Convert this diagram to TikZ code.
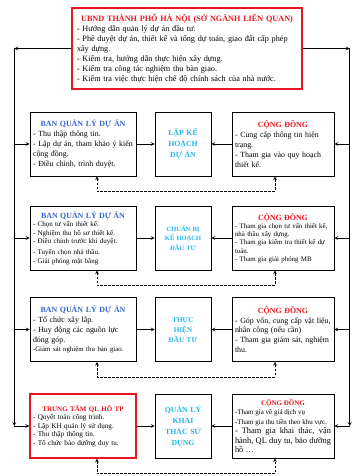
\documentclass[tikz,border=0pt]{standalone}
\usepackage{fontspec}
\setmainfont{Liberation Serif}
\usepackage{xcolor}
\usetikzlibrary{positioning,calc,arrows}
\definecolor{ubndred}{RGB}{232,22,30}
\definecolor{bqblue}{RGB}{52,102,204}
\definecolor{midcyan}{RGB}{34,182,240}
\newcommand{\bqtitle}[1]{{\centering\bfseries\color{bqblue}#1\par}}
\newcommand{\cdtitle}[1]{{\centering\bfseries\color{ubndred}#1\par}}
\tikzset{%
  every box/.style={
    rectangle,
    draw,
    line width=0.7pt,
    inner sep=3pt,
    font=\fontsize{7.9}{9.9}\selectfont
  },
  bq box/.style={
    text width=100pt,
    minimum height=64pt,
    align=left
  },
  cd box/.style={
    text width=96pt,
    minimum height=64pt,
    align=left
  },
  mid box/.style={
    text width=50pt,
    minimum height=64pt,
    align=center,
    text=midcyan,
    font=\fontsize{7.8}{11}\selectfont\bfseries
  },
  red box/.style={
    draw=ubndred,
    line width=1.3pt
  },
}

\begin{document}
\begin{tikzpicture}[x=1pt, y=-1pt, >=stealth, line width=0.7pt]
  \useasboundingbox (0,0) rectangle (353,476);

  % top box
  \node [every box/.try, red box, text width=220pt, minimum height=81pt, align=left, inner sep=5pt, font=\fontsize{8.2}{10.1}\selectfont] (ubnd) at (187,48.5)
    {\cdtitle{UBND THÀNH PHỐ HÀ NỘI (SỞ NGÀNH LIÊN QUAN)}%
     - Hướng dẫn quản lý dự án đầu tư.\par
     - Phê duyệt dự án, thiết kế và tổng dự toán, giao đất cấp phép xây dựng.\par
     - Kiểm tra, hướng dẫn thực hiện xây dựng.\par
     - Kiểm tra công tác nghiệm thu bàn giao.\par
     - Kiểm tra việc thực hiện chế độ chính sách của nhà nước.};

  % row 1
  \node [every box/.try, bq box] (left-1) at (83,144)
    {\bqtitle{BAN QUẢN LÝ DỰ ÁN}%
     - Thu thập thông tin.\par
     - Lập dự án, tham khảo ý kiến cộng đồng.\par
     - Điều chỉnh, trình duyệt.};
  \node [every box/.try, mid box] (mid-1) at (183,144) {LẬP KẾ\\HOẠCH\\DỰ ÁN};
  \node [every box/.try, cd box] (right-1) at (283,144)
    {\cdtitle{CỘNG ĐỒNG}%
     - Cung cấp thông tin hiện trạng.\par
     - Tham gia vào quy hoạch thiết kế.};

  % row 2
  \node [every box/.try, bq box, font=\fontsize{7}{8.6}\selectfont] (left-2) at (83,238)
    {{\fontsize{7.9}{9.9}\selectfont\bqtitle{BAN QUẢN LÝ DỰ ÁN}}%
     - Chọn tư vấn thiết kế.\par
     - Nghiệm thu hồ sơ thiết kế.\par
     - Điều chỉnh trước khi duyệt.\par\vspace{2pt}
     - Tuyển chọn nhà thầu.\par
     - Giải phóng mặt bằng};
  \node [every box/.try, mid box, font=\fontsize{6.5}{9.5}\selectfont\bfseries] (mid-2) at (183,238) {CHUẨN BỊ\\KẾ HOẠCH\\ĐẦU TƯ};
  \node [every box/.try, cd box, font=\fontsize{6.9}{8.2}\selectfont] (right-2) at (283,238)
    {{\fontsize{7.9}{9.9}\selectfont\cdtitle{CỘNG ĐỒNG}}%
     - Tham gia chọn tư vấn thiết kế, nhà thầu xây dựng.\par
     - Tham gia kiểm tra thiết kế dự toán.\par
     - Tham gia giải phóng MB};

  % row 3
  \node [every box/.try, bq box] (left-3) at (83,329.5)
    {\bqtitle{BAN QUẢN LÝ DỰ ÁN}%
     - Tổ chức xây lắp.\par
     - Huy động các nguồn lực đóng góp.\par
     {\fontsize{6.8}{9.9}\selectfont -Giám sát nghiệm thu bàn giao.\par}};
  \node [every box/.try, mid box, font=\fontsize{7.2}{10}\selectfont\bfseries] (mid-3) at (183,329.5) {THỰC\\HIỆN\\ĐẦU TƯ};
  \node [every box/.try, cd box] (right-3) at (283,329.5)
    {\cdtitle{CỘNG ĐỒNG}%
     - Góp vốn, cung cấp vật liệu, nhân công (nếu cần)\par
     - Tham gia giám sát, nghiệm thu.};

  % row 4
  \node [every box/.try, bq box, red box, font=\fontsize{7.2}{8.6}\selectfont] (left-4) at (83,426)
    {{\fontsize{7}{9.4}\selectfont\cdtitle{TRUNG TÂM QL HỒ TP}}%
     - Quyết toán công trình.\par
     - Lập KH quản lý sử dụng.\par
     - Thu thập thông tin.\par
     - Tổ chức bảo dưỡng duy tu.};
  \node [every box/.try, mid box] (mid-4) at (183,426) {QUẢN LÝ\\KHAI\\THÁC SỬ\\DỤNG};
  \node [every box/.try, cd box, align=justify, font=\fontsize{7}{9.4}\selectfont] (right-4) at (283,426)
    {\cdtitle{CỘNG ĐỒNG}%
     -Tham gia về giá dịch vụ\par
     -Tham gia thu tiền theo khu vực.\par
     {\fontsize{8.4}{9.6}\selectfont - Tham gia khai thác, vận hành, QL duy tu, bảo dưỡng hồ \dots\par}};

  % outer loop
  \path (ubnd.west) ++(-57,0) coordinate (lt);
  \path (ubnd.east) ++(47,0) coordinate (rt);
  \draw [->] (ubnd.west) -- (lt);
  \draw [->] (ubnd.east) -- (rt);
  \draw [->] (lt) -- (lt |- left-4.west);
  \draw [->] (rt) -- (rt |- right-4.east);

  \foreach \i in {1,...,4}
    {
      \draw [->] (lt |- left-\i.west) -- (left-\i.west);
      \draw [->] (rt |- right-\i.east) -- (right-\i.east);
      \draw [->] (left-\i) -- (mid-\i);
      \draw [->] (right-\i) -- (mid-\i);
      \draw [<->, dash pattern=on 2.5pt off 1.5pt] ($(left-\i.south)+(14,0)$) -- ++(0,15) -| ($(right-\i.south)+(-8,0)$);
    }
\end{tikzpicture}
\end{document}
